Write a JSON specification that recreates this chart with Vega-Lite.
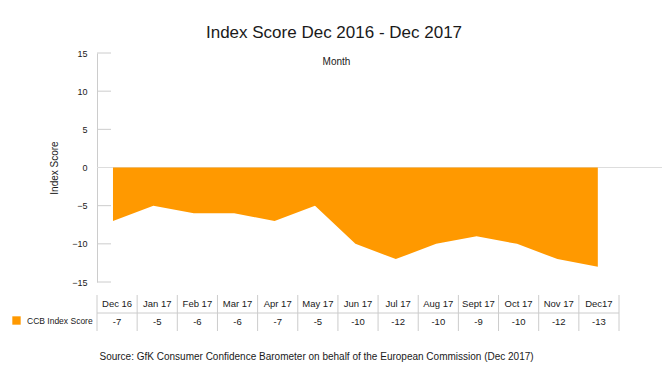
{
  "$schema": "https://vega.github.io/schema/vega-lite/v6.json",
  "background": "white",
  "padding": {"left": 12, "top": 24, "right": 5, "bottom": 5},
  "config": {
    "view": {"stroke": null},
    "font": "Liberation Sans",
    "concat": {"spacing": 13},
    "axisY": {"labelOverlap": false}
  },
  "datasets": {
    "ccb": [
      {"month": "Dec 16", "value": -7, "series": "CCB Index Score"},
      {"month": "Jan 17", "value": -5, "series": "CCB Index Score"},
      {"month": "Feb 17", "value": -6, "series": "CCB Index Score"},
      {"month": "Mar 17", "value": -6, "series": "CCB Index Score"},
      {"month": "Apr 17", "value": -7, "series": "CCB Index Score"},
      {"month": "May 17", "value": -5, "series": "CCB Index Score"},
      {"month": "Jun 17", "value": -10, "series": "CCB Index Score"},
      {"month": "Jul 17", "value": -12, "series": "CCB Index Score"},
      {"month": "Aug 17", "value": -10, "series": "CCB Index Score"},
      {"month": "Sept 17", "value": -9, "series": "CCB Index Score"},
      {"month": "Oct 17", "value": -10, "series": "CCB Index Score"},
      {"month": "Nov 17", "value": -12, "series": "CCB Index Score"},
      {"month": "Dec17", "value": -13, "series": "CCB Index Score"}
    ],
    "ticks": [
      {"t": -15}, {"t": -10}, {"t": -5}, {"t": 0}, {"t": 5}, {"t": 10}, {"t": 15}
    ]
  },
  "bounds": "flush",
  "vconcat": [
    {
      "width": 522,
      "height": 229,
      "data": {"name": "ccb"},
      "title": {
        "text": "Index Score Dec 2016 - Dec 2017",
        "fontSize": 17,
        "fontWeight": "normal",
        "color": "#1a1a1a",
        "anchor": "middle",
        "dx": -24,
        "offset": 7
      },
      "encoding": {
        "y": {
          "field": "value",
          "type": "quantitative",
          "scale": {"domain": [-15, 15], "nice": false},
          "axis": {
            "values": [-15, -10, -5, 0, 5, 10, 15],
            "labelOverlap": false,
            "grid": false,
            "domainColor": "#cccccc",
            "ticks": false,
            "labelPadding": 10,
            "labelFontSize": 9,
            "labelColor": "#1a1a1a",
            "title": "Index Score",
            "titleFontSize": 10,
            "titleFontWeight": "normal",
            "titleColor": "#1a1a1a",
            "titlePadding": 12
          }
        }
      },
      "layer": [
        {
          "data": {"name": "ticks"},
          "mark": {"type": "rule", "color": "#cccccc", "strokeWidth": 1},
          "encoding": {
            "y": {"field": "t", "type": "quantitative"},
            "x": {"value": 0},
            "x2": {"value": 14}
          }
        },
        {
          "data": {"values": [{"t": 0}]},
          "mark": {"type": "rule", "color": "#dddddd", "strokeWidth": 1, "clip": false},
          "encoding": {
            "y": {"field": "t", "type": "quantitative"},
            "x": {"value": 0},
            "x2": {"value": 565}
          }
        },
        {
          "mark": {"type": "area", "opacity": 1, "interpolate": "linear"},
          "encoding": {
            "x": {
              "field": "month",
              "type": "ordinal",
              "sort": null,
              "scale": {"type": "point", "padding": 0.46, "align": 0.43},
              "axis": {
                "orient": "top",
                "title": "Month",
                "labels": false,
                "ticks": false,
                "domain": false,
                "titleFontSize": 10,
                "titleFontWeight": "normal",
                "titleColor": "#1a1a1a",
                "titleBaseline": "middle",
                "titleY": 8,
                "titleX": 239
              }
            },
            "color": {
              "field": "series",
              "type": "nominal",
              "scale": {"range": ["#ff9900"]},
              "legend": {
                "orient": "none",
                "legendX": -85,
                "legendY": 263,
                "title": null,
                "symbolType": "square",
                "symbolSize": 70,
                "symbolStrokeWidth": 0,
                "labelFontSize": 8.5,
                "labelColor": "#1a1a1a",
                "labelOffset": 6
              }
            }
          }
        }
      ]
    },
    {
      "width": 522,
      "height": 36,
      "data": {"name": "ccb"},
      "title": {
        "text": "Source: GfK Consumer Confidence Barometer on behalf of the European Commission (Dec 2017)",
        "orient": "bottom",
        "anchor": "start",
        "fontSize": 10,
        "fontWeight": "normal",
        "color": "#1a1a1a",
        "dx": 3,
        "offset": 20
      },
      "resolve": {"scale": {"x": "shared", "y": "shared"}},
      "layer": [
        {
          "mark": {"type": "rule", "color": "#cccccc", "strokeWidth": 1},
          "encoding": {
            "x": {"field": "month", "type": "ordinal", "bandPosition": 0,
                  "scale": {"type": "band", "paddingInner": 0, "paddingOuter": 0,
                            "domain": ["Dec 16", "Jan 17", "Feb 17", "Mar 17", "Apr 17", "May 17", "Jun 17", "Jul 17", "Aug 17", "Sept 17", "Oct 17", "Nov 17", "Dec17"]},
                  "axis": null}
          }
        },
        {
          "data": {"values": [{"month": "Dec17"}]},
          "mark": {"type": "rule", "color": "#cccccc", "strokeWidth": 1},
          "encoding": {"x": {"field": "month", "type": "ordinal", "bandPosition": 1, "axis": null}}
        },
        {
          "data": {"values": [{"row": "value"}]},
          "mark": {"type": "rule", "color": "#cccccc", "strokeWidth": 1},
          "encoding": {
            "y": {"field": "row", "type": "ordinal", "bandPosition": 0,
                  "scale": {"type": "band", "domain": ["header", "value"], "paddingInner": 0, "paddingOuter": 0},
                  "axis": null}
          }
        },
        {
          "mark": {"type": "text", "fontSize": 9.5, "color": "#1a1a1a", "baseline": "middle"},
          "encoding": {
            "x": {"field": "month", "type": "ordinal", "bandPosition": 0.5, "axis": null},
            "y": {"datum": "header", "type": "ordinal", "bandPosition": 0.5, "axis": null},
            "text": {"field": "month"}
          }
        },
        {
          "mark": {"type": "text", "fontSize": 9.5, "color": "#1a1a1a", "baseline": "middle"},
          "encoding": {
            "x": {"field": "month", "type": "ordinal", "bandPosition": 0.5, "axis": null},
            "y": {"datum": "value", "type": "ordinal", "bandPosition": 0.5, "axis": null},
            "text": {"field": "value", "type": "nominal"}
          }
        }
      ]
    }
  ]
}
